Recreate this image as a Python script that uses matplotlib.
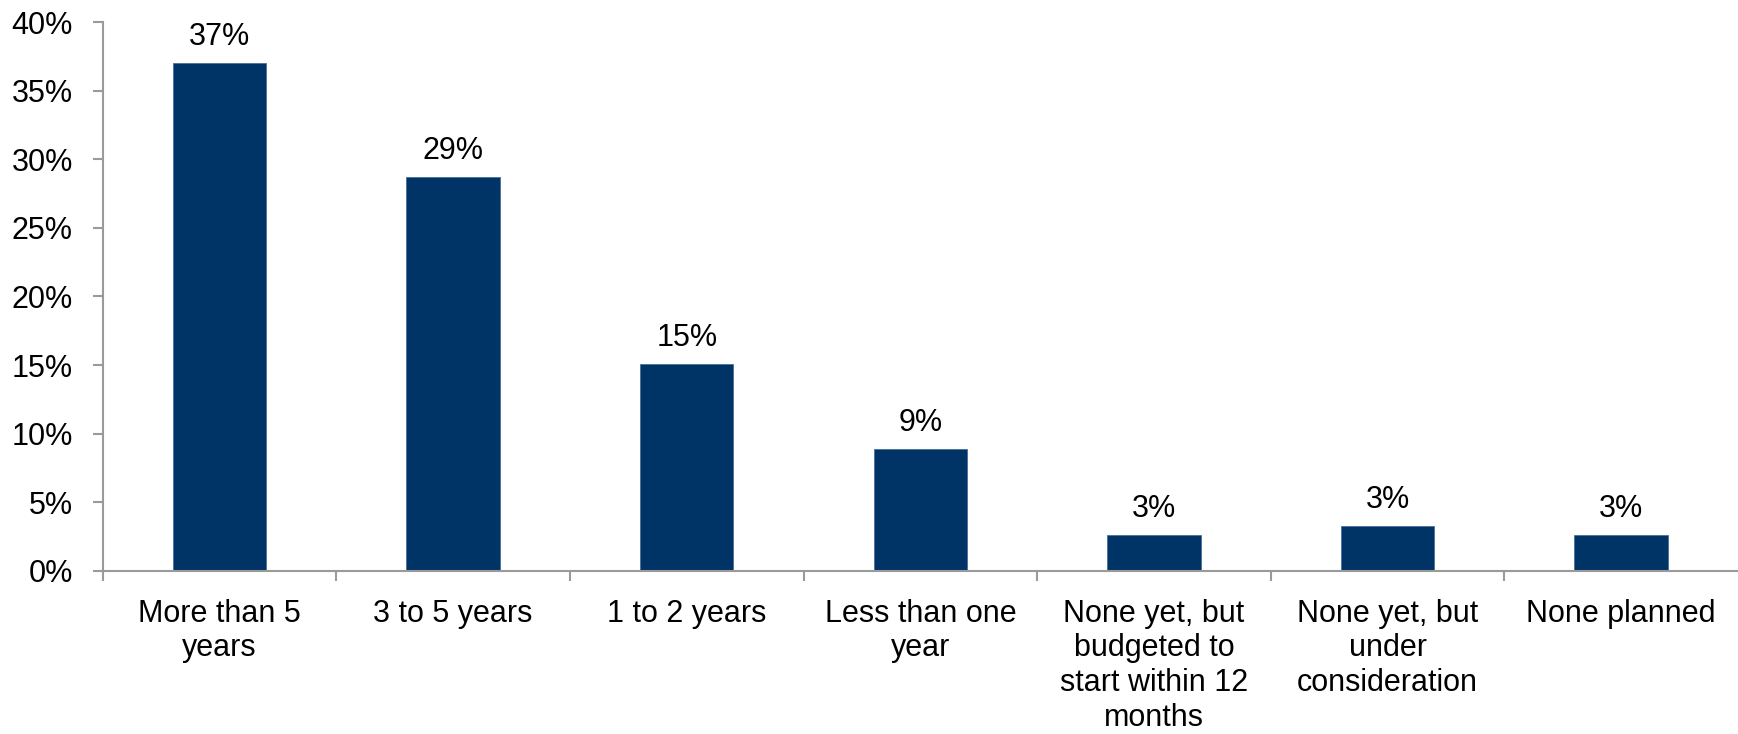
import matplotlib
matplotlib.use("Agg")
import matplotlib.pyplot as plt
import matplotlib.ticker as ticker
import numpy as np

# Survey answers: how long the programme has been running
categories = [
    "More than 5\nyears",
    "3 to 5 years",
    "1 to 2 years",
    "Less than one\nyear",
    "None yet, but\nbudgeted to\nstart within 12\nmonths",
    "None yet, but\nunder\nconsideration",
    "None planned",
]
shares = [37.0, 28.7, 15.1, 8.9, 2.6, 3.3, 2.6]  # percent of respondents
y_ticks = [0, 5, 10, 15, 20, 25, 30, 35, 40]

plt.rcParams["font.family"] = ["Liberation Sans", "DejaVu Sans"]

bar_color = "#003366"
axis_color = "#9a9a9a"

fig = plt.figure(figsize=(17.38, 7.34), dpi=100)
ax = fig.add_axes([0.0591, 0.2221, 0.9409, 0.7479])

x = np.arange(len(categories))
bars = ax.bar(x, shares, width=0.4, color=bar_color, edgecolor="#4a6d96", linewidth=0.6)

# Value labels above each bar
for rect, val in zip(bars, shares):
    ax.annotate(f"{val:.0f}%", xy=(rect.get_x() + rect.get_width() / 2, rect.get_height()),
                xytext=(0, 13), textcoords="offset points",
                ha="center", va="baseline", fontsize=22, color="black")

# Y axis in percent
ax.set_ylim(0, 40)
ax.set_yticks(y_ticks)
ax.yaxis.set_major_formatter(ticker.FuncFormatter(lambda v, _: f"{v:.0f}%"))
ax.tick_params(axis="y", length=7.5, width=1.5, color=axis_color, pad=14,
               labelsize=22, labelcolor="black")

# Category labels centred under the bars, tick marks between categories
ax.set_xlim(-0.5, len(categories) - 0.5)
ax.set_xticks(x)
ax.set_xticklabels(categories, fontsize=22, linespacing=1.2)
ax.set_xticks(np.arange(-0.5, len(categories) - 1), minor=True)
ax.tick_params(axis="x", which="major", length=0, pad=20)
ax.tick_params(axis="x", which="minor", length=7.5, width=1.5, color=axis_color)

for side in ("top", "right"):
    ax.spines[side].set_visible(False)
for side in ("left", "bottom"):
    ax.spines[side].set_color(axis_color)
    ax.spines[side].set_linewidth(1.5)

fig.savefig("out.png", dpi=100)
plt.close(fig)
